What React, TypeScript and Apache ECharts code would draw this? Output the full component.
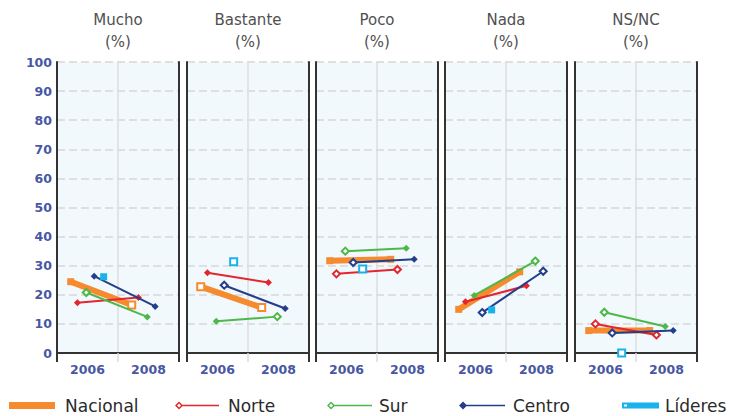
import React, { useEffect, useRef } from "react";
import * as echarts from "echarts";

// ---------- data ----------
const PANELS = ["Mucho", "Bastante", "Poco", "Nada", "NS/NC"];
const YEARS = [2006, 2008];
const X_LABELS = ["2006", "2008"];
const SERIES_NAMES = ["Nacional", "Norte", "Sur", "Centro", "Líderes"];

// values per panel: [2006, 2008]
const NACIONAL = [[24.5, 16.5], [22.8, 15.6], [31.7, 32.2], [15.0, 27.9], [7.7, 7.7]];
const NORTE = [[17.3, 19.1], [27.6, 24.2], [27.2, 28.7], [17.6, 23.1], [10.0, 6.2]];
const SUR = [[20.8, 12.4], [10.9, 12.5], [35.0, 36.0], [19.8, 31.6], [14.0, 9.1]];
const CENTRO = [[26.4, 16.0], [23.3, 15.3], [31.1, 32.2], [13.9, 28.1], [6.9, 7.7]];
// Líderes: 2006 only
const LIDERES = [[26.2], [31.4], [28.9], [14.8], [0]];

// ---------- style ----------
const COLORS: Record<string, string> = {
  Nacional: "#f58a2e",
  Norte: "#e3262e",
  Sur: "#4cb848",
  Centro: "#233e8b",
  "Líderes": "#1ab2ea",
};
const X_OFFSET: Record<string, number> = {
  Nacional: -0.55,
  Norte: -0.33,
  Sur: -0.04,
  Centro: 0.22,
  "Líderes": 0.53,
};
const HOLLOW: Record<string, number[][]> = {
  Nacional: [[0, 1], [1, 1], [0, 0], [0, 0], [0, 0]],
  Norte: [[0, 0], [0, 0], [1, 1], [0, 0], [1, 1]],
  Sur: [[1, 0], [0, 1], [1, 0], [0, 1], [1, 0]],
  Centro: [[0, 0], [1, 0], [1, 0], [1, 1], [1, 0]],
  "Líderes": [[0], [1], [1], [0], [1]],
};
const VALUES: Record<string, number[][]> = {
  Nacional: NACIONAL,
  Norte: NORTE,
  Sur: SUR,
  Centro: CENTRO,
  "Líderes": LIDERES,
};

const GRID_LEFTS = [57, 187, 316, 445, 575];
const GRID_W = 122;
const GRID_TOP = 62;
const GRID_H = 291;
const FONT = "DejaVu Sans, Verdana, sans-serif";
const LABEL_COLOR = "#4757a3";
const AXIS_DARK = "#333333";

const lineWithDiamond = (w: number, hollow: boolean) => {
  const outer = "M4.5 0.5L8.5 4.5L4.5 8.5L0.5 4.5Z";
  const inner = hollow ? "M4.5 2.6L2.6 4.5L4.5 6.4L6.4 4.5Z" : "";
  const line = `M8 3.8L${w} 3.8L${w} 5.2L8 5.2Z`;
  return "path://" + outer + inner + line;
};
const barWithHole = (w: number) =>
  `path://M0 0L${w} 0L${w} 6L0 6ZM2 2L2 4L5 4L5 2Z`;

const LEGEND_ITEMS = [
  { name: "Nacional", left: 9, w: 46, h: 7, pad: 5, icon: "rect" },
  { name: "Norte", left: 175, w: 44, h: 9, pad: 4, icon: lineWithDiamond(44, true) },
  { name: "Sur", left: 327, w: 45, h: 9, pad: 2, icon: lineWithDiamond(45, true) },
  { name: "Centro", left: 459, w: 46, h: 9, pad: 3, icon: lineWithDiamond(46, false) },
  { name: "Líderes", left: 622, w: 37, h: 6, pad: 1, icon: barWithHole(37) },
];

function buildOption() {
  const grid = PANELS.map((_, p) => ({
    left: GRID_LEFTS[p],
    top: GRID_TOP,
    width: GRID_W,
    height: GRID_H,
    show: true,
    backgroundColor: "#f2f9fd",
    borderWidth: 0,
  }));

  const xAxis: any[] = [];
  const yAxis: any[] = [];
  PANELS.forEach((_, p) => {
    // mid-period guide line (2007)
    xAxis.push({
      gridIndex: p,
      type: "value",
      min: 2005,
      max: 2009,
      interval: 2,
      position: "bottom",
      axisLine: { show: false, onZero: false },
      axisTick: { show: true, length: 9, lineStyle: { color: "#dcdcdc", width: 1.5 } },
      axisLabel: { show: false },
      splitLine: {
        show: true,
        showMinLine: false,
        showMaxLine: false,
        lineStyle: { color: "#dcdcdc", width: 1.5, type: "solid" },
      },
    });
    // year labels
    xAxis.push({
      gridIndex: p,
      type: "value",
      min: 2005,
      max: 2009,
      interval: 1,
      position: "bottom",
      axisLine: { show: false, onZero: false },
      axisTick: { show: false },
      splitLine: { show: false },
      axisLabel: {
        show: true,
        margin: 10,
        color: LABEL_COLOR,
        fontSize: 12.5,
        fontWeight: "bold",
        fontFamily: FONT,
        formatter: (v: number) => (X_LABELS.includes(String(v)) ? String(v) : ""),
      },
    });
    // main axis (series)
    xAxis.push({
      gridIndex: p,
      type: "value",
      min: 2005,
      max: 2009,
      interval: 4,
      position: "bottom",
      axisLine: { show: true, onZero: false, lineStyle: { color: AXIS_DARK, width: 2 } },
      axisTick: { show: true, length: 9, lineStyle: { color: AXIS_DARK, width: 2 } },
      axisLabel: { show: false },
      splitLine: { show: false },
    });
    yAxis.push({
      gridIndex: p,
      type: "value",
      min: 0,
      max: 100,
      interval: 10,
      position: "left",
      axisLine: { show: true, onZero: false, lineStyle: { color: AXIS_DARK, width: 2 } },
      axisTick: { show: false },
      axisLabel: {
        show: p === 0,
        margin: 5,
        color: LABEL_COLOR,
        fontSize: 12.5,
        fontWeight: "bold",
        fontFamily: FONT,
      },
      splitLine: {
        show: true,
        showMinLine: false,
        lineStyle: { color: "#d6d6d6", width: 1.5, type: [8, 4] },
      },
    });
    yAxis.push({
      gridIndex: p,
      type: "value",
      min: 0,
      max: 100,
      interval: 10,
      position: "right",
      axisLine: { show: true, onZero: false, lineStyle: { color: AXIS_DARK, width: 2 } },
      axisTick: { show: false },
      axisLabel: { show: false },
      splitLine: { show: false },
    });
  });

  const series: any[] = [];
  PANELS.forEach((_, p) => {
    SERIES_NAMES.forEach((name, si) => {
      const c = COLORS[name];
      const vals = VALUES[name][p];
      const isNac = name === "Nacional";
      const isLid = name === "Líderes";
      series.push({
        type: "line",
        name,
        xAxisIndex: 3 * p + 2,
        yAxisIndex: 2 * p,
        z: 2 + si,
        symbol: isNac || isLid ? "rect" : "diamond",
        symbolSize: isNac ? 7 : isLid ? 7 : 7,
        showSymbol: true,
        lineStyle: { color: c, width: isNac ? 6 : 2 },
        itemStyle: { color: c },
        data: vals.map((v, i) => ({
          value: [YEARS[i] + X_OFFSET[name], v],
          itemStyle: HOLLOW[name][p][i]
            ? { color: "#ffffff", borderColor: c, borderWidth: 2 }
            : { color: c, borderColor: c, borderWidth: 0 },
        })),
      });
    });
  });

  const legend = LEGEND_ITEMS.map((it) => ({
    data: [{ name: it.name, icon: it.icon }],
    left: it.left,
    top: 397,
    padding: 0,
    itemWidth: it.w,
    itemHeight: it.h,
    itemGap: 0,
    selectedMode: false,
    itemStyle: { borderWidth: 0 },
    textStyle: {
      fontSize: 17,
      color: "#2a2a2a",
      fontFamily: FONT,
      padding: [0, 0, 0, it.pad],
    },
  }));

  const graphic = PANELS.map((t, p) => ({
    type: "text",
    x: GRID_LEFTS[p] + GRID_W / 2,
    y: 9,
    style: {
      text: t + "\n(%)",
      textAlign: "center",
      textVerticalAlign: "top",
      fill: "#505050",
      fontSize: 15,
      fontFamily: FONT,
      lineHeight: 22,
    },
  }));

  return {
    animation: false,
    backgroundColor: "#ffffff",
    grid,
    xAxis,
    yAxis,
    series,
    legend,
    graphic,
  };
}

export default function App() {
  const ref = useRef<HTMLDivElement>(null);
  useEffect(() => {
    if (!ref.current) return;
    const chart = echarts.init(ref.current, undefined, { renderer: "svg" });
    chart.setOption(buildOption() as any);
    return () => chart.dispose();
  }, []);
  return (
    <div
      ref={ref}
      style={{ position: "fixed", left: 0, top: 0, width: 730, height: 416 }}
    />
  );
}
